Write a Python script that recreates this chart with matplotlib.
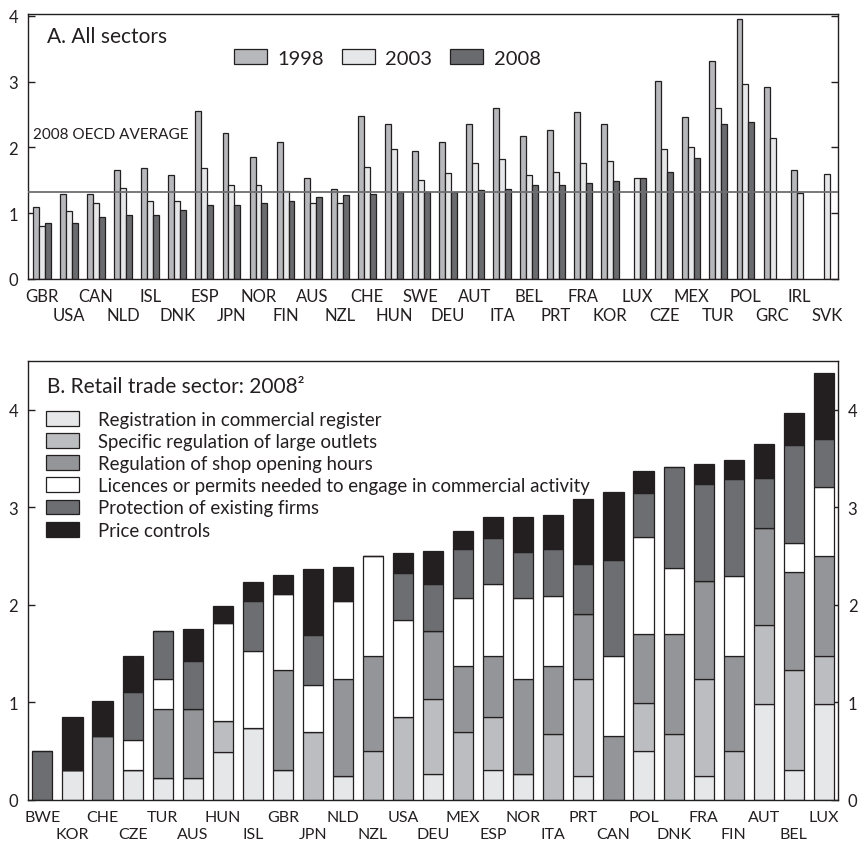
import numpy as np
import matplotlib
matplotlib.use("Agg")
import matplotlib.pyplot as plt
from matplotlib.patches import Patch

plt.rcParams['font.family'] = ['Lato', 'DejaVu Sans']

# ---------------- Panel A data ----------------
countries_a = ["GBR", "USA", "CAN", "NLD", "ISL", "DNK", "ESP", "JPN", "NOR", "FIN",
               "AUS", "NZL", "CHE", "HUN", "SWE", "DEU", "AUT", "ITA", "BEL", "PRT",
               "FRA", "KOR", "LUX", "CZE", "MEX", "TUR", "POL", "GRC", "IRL", "SVK"]
v1998 = [1.09, 1.29, 1.29, 1.66, 1.69, 1.58, 2.56, 2.22, 1.85, 2.09,
         1.53, 1.37, 2.48, 2.35, 1.95, 2.09, 2.35, 2.60, 2.18, 2.27,
         2.54, 2.35, np.nan, 3.01, 2.46, 3.32, 3.96, 2.92, 1.66, np.nan]
v2003 = [0.81, 1.03, 1.15, 1.38, 1.19, 1.19, 1.69, 1.43, 1.43, 1.34,
         1.15, 1.15, 1.71, 1.98, 1.51, 1.61, 1.77, 1.83, 1.58, 1.63,
         1.77, 1.79, 1.54, 1.97, 2.00, 2.60, 2.96, 2.15, 1.31, 1.60]
v2008 = [0.85, 0.85, 0.95, 0.97, 0.97, 1.05, 1.12, 1.12, 1.16, 1.19,
         1.24, 1.27, 1.29, 1.33, 1.33, 1.33, 1.35, 1.37, 1.43, 1.43,
         1.46, 1.49, 1.54, 1.63, 1.84, 2.35, 2.39, np.nan, np.nan, np.nan]
years = ["1998", "2003", "2008"]
oecd_avg_2008 = 1.33

# ---------------- Panel B data ----------------
countries_b = ["BWE", "KOR", "CHE", "CZE", "TUR", "AUS", "HUN", "ISL", "GBR", "JPN",
               "NLD", "NZL", "USA", "DEU", "MEX", "ESP", "NOR", "ITA", "PRT", "CAN",
               "POL", "DNK", "FRA", "FIN", "AUT", "BEL", "LUX"]
registration = [0.00, 0.31, 0.00, 0.31, 0.23, 0.23, 0.49, 0.74, 0.31, 0.00,
                0.25, 0.00, 0.00, 0.27, 0.00, 0.31, 0.27, 0.00, 0.25, 0.00,
                0.50, 0.00, 0.25, 0.00, 0.98, 0.31, 0.98]
large_outlets = [0.00, 0.00, 0.00, 0.00, 0.00, 0.00, 0.32, 0.00, 0.00, 0.70,
                 0.00, 0.50, 0.85, 0.77, 0.70, 0.54, 0.00, 0.68, 0.99, 0.00,
                 0.49, 0.68, 0.99, 0.50, 0.81, 1.02, 0.50]
shop_hours = [0.00, 0.00, 0.66, 0.00, 0.70, 0.70, 0.00, 0.00, 1.02, 0.00,
              0.99, 0.98, 0.00, 0.69, 0.67, 0.63, 0.97, 0.69, 0.67, 0.66,
              0.71, 1.02, 1.01, 0.98, 1.00, 1.01, 1.02]
licences = [0.00, 0.00, 0.00, 0.31, 0.31, 0.00, 1.00, 0.79, 0.78, 0.48,
            0.80, 1.02, 1.00, 0.00, 0.70, 0.73, 0.83, 0.72, 0.00, 0.82,
            1.00, 0.68, 0.00, 0.82, 0.00, 0.29, 0.71]
protection = [0.50, 0.00, 0.00, 0.49, 0.49, 0.49, 0.00, 0.51, 0.00, 0.51,
              0.00, 0.00, 0.48, 0.48, 0.50, 0.48, 0.47, 0.48, 0.51, 0.98,
              0.45, 1.03, 0.99, 0.99, 0.51, 1.01, 0.49]
price_controls = [0.00, 0.54, 0.35, 0.37, 0.00, 0.33, 0.18, 0.19, 0.20, 0.68,
                  0.35, 0.00, 0.20, 0.34, 0.19, 0.21, 0.36, 0.35, 0.67, 0.70,
                  0.22, 0.00, 0.20, 0.20, 0.35, 0.33, 0.68]
components = ["Registration in commercial register",
              "Specific regulation of large outlets",
              "Regulation of shop opening hours",
              "Licences or permits needed to engage in commercial activity",
              "Protection of existing firms",
              "Price controls"]

EDGE = "#231f20"
year_colors = ["#b7b8bb", "#e6e7e8", "#6a6b6e"]
comp_colors = ["#e6e7e8", "#bcbdc0", "#939598", "#ffffff", "#6d6e71", "#231f20"]

W, H = 863, 845
fig = plt.figure(figsize=(W / 100, H / 100), dpi=100)

def style_axes(ax, xsize):
    for s in ax.spines.values():
        s.set_color(EDGE)
        s.set_linewidth(1.0)
    ax.tick_params(axis='y', which='both', direction='in', length=5, width=1,
                   color=EDGE, labelsize=12, pad=7, left=True, right=True)
    ax.tick_params(axis='x', which='both', length=0, labelsize=xsize)

def two_row_labels(ax, labels, pad_top, pad_bottom):
    pos = np.arange(len(labels))
    ax.set_xticks(pos[0::2])
    ax.set_xticklabels(labels[0::2])
    ax.set_xticks(pos[1::2], minor=True)
    ax.set_xticklabels(labels[1::2], minor=True)
    ax.tick_params(axis='x', which='major', pad=pad_top)
    ax.tick_params(axis='x', which='minor', pad=pad_bottom)

# ---------------- Panel A ----------------
axA = fig.add_axes([28 / W, 1 - 280 / H, 810 / W, 265 / H])
style_axes(axA, 12)
xa = np.arange(len(countries_a))
bw = 0.22
for k, (vals, col, lab) in enumerate(zip([v1998, v2003, v2008], year_colors, years)):
    axA.bar(xa + (k - 1) * bw, vals, width=bw, color=col, edgecolor=EDGE,
            linewidth=0.9, label=lab, zorder=2)
axA.axhline(oecd_avg_2008, color="#6d6e71", linewidth=1.3, zorder=3)
axA.text(0.006, 2.21, "2008 OECD AVERAGE", transform=axA.get_yaxis_transform(),
         fontsize=11, va='center', ha='left', color=EDGE)
axA.set_xlim(-0.52, len(countries_a) - 1 + 0.42)
axA.set_ylim(0, 4.03)
axA.set_yticks([0, 1, 2, 3, 4])
axA.tick_params(axis='y', labelleft=True, labelright=False)
two_row_labels(axA, countries_a, 6.5, 20)
axA.text(0.0235, 0.917, "A. All sectors", transform=axA.transAxes, fontsize=15,
         va='center', ha='left', color=EDGE)
legA = axA.legend(loc='center left', bbox_to_anchor=(0.254, 0.835), ncol=3,
                  frameon=False, fontsize=14.5, handlelength=1.65, handleheight=0.8,
                  handletextpad=0.5, columnspacing=0.9, borderpad=0, borderaxespad=0)
for t in legA.get_texts():
    t.set_color(EDGE)

# ---------------- Panel B ----------------
axB = fig.add_axes([28 / W, 1 - 801 / H, 810 / W, 439 / H])
style_axes(axB, 11.5)
xb = np.arange(len(countries_b))
bottom = np.zeros(len(countries_b))
for vals, col, lab in zip([registration, large_outlets, shop_hours, licences,
                           protection, price_controls], comp_colors, components):
    vals = np.asarray(vals)
    axB.bar(xb, vals, bottom=bottom, width=0.67, color=col, edgecolor=EDGE,
            linewidth=0.9, label=lab, zorder=2)
    bottom = bottom + vals
axB.set_xlim(-0.48, len(countries_b) - 1 + 0.47)
axB.set_ylim(0, 4.5)
axB.set_yticks([0, 1, 2, 3, 4])
axB.tick_params(axis='y', labelleft=True, labelright=True)
two_row_labels(axB, countries_b, 7, 19.5)
axB.text(0.0235, 0.943, "B. Retail trade sector: 2008²", transform=axB.transAxes,
         fontsize=15, va='center', ha='left', color=EDGE)
handles = [Patch(facecolor=c, edgecolor=EDGE, linewidth=0.9) for c in comp_colors]
legB = axB.legend(handles, components, loc='upper left', bbox_to_anchor=(0.022, 0.887),
                  frameon=False, fontsize=13.4, handlelength=1.78, handleheight=0.86,
                  handletextpad=1.0, labelspacing=0.28, borderpad=0, borderaxespad=0)
for t in legB.get_texts():
    t.set_color(EDGE)

for ax in (axA, axB):
    for lbl in ax.get_xticklabels(which='both') + ax.get_yticklabels(which='both'):
        lbl.set_color(EDGE)

fig.savefig("out.png", dpi=100)
